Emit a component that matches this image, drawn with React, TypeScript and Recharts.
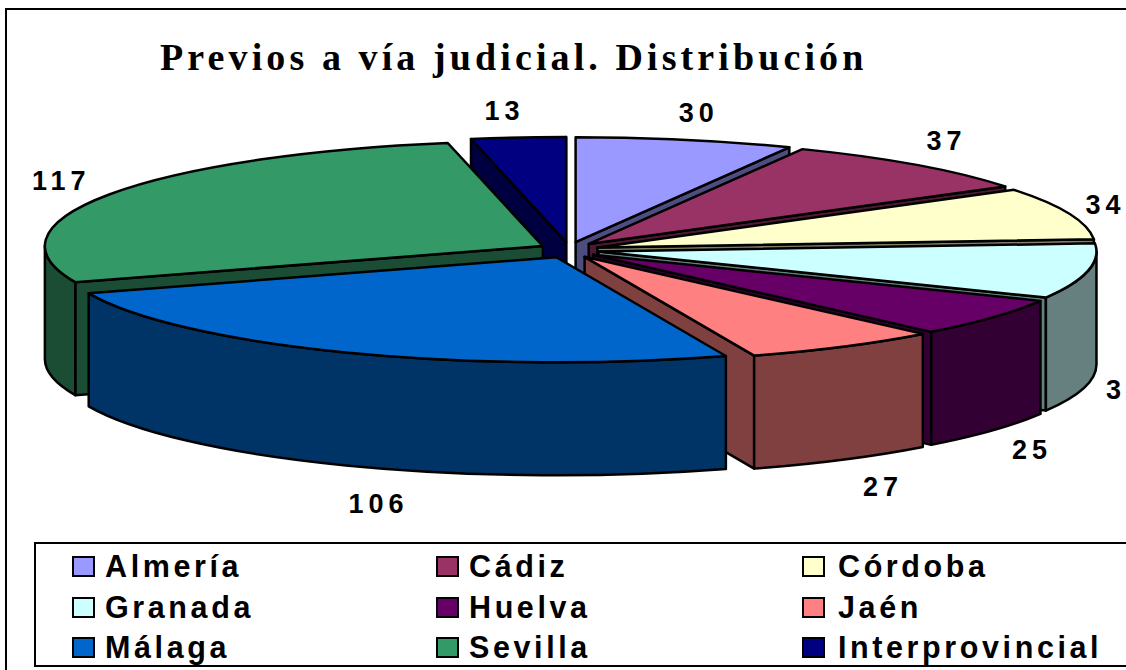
import React from "react";
import { PieChart, Pie, Legend } from "recharts";

const TITLE = "Previos a vía judicial. Distribución";
const provinces = ["Almería", "Cádiz", "Córdoba", "Granada", "Huelva", "Jaén", "Málaga", "Sevilla", "Interprovincial"];
const counts = [30, 37, 34, 36, 25, 27, 106, 117, 13];
const topColors = ["#9999FF", "#993366", "#FFFFCC", "#CCFFFF", "#660066", "#FF8080", "#0066CC", "#339966", "#000080"];
const sideColors = ["#4D4D80", "#4D1A33", "#808066", "#668080", "#330033", "#804040", "#003366", "#1A4D33", "#000040"];
// Back-to-front painting order of the slices.
const paintOrder = ["Interprovincial", "Almería", "Cádiz", "Sevilla", "Córdoba", "Granada", "Huelva", "Jaén", "Málaga"];
const labelShift: Record<string, [number, number]> = {
  "Almería": [5, 0],
  "Cádiz": [5, -3],
  Huelva: [8, 0],
  "Jaén": [19, 0],
  "Málaga": [49, 10],
  Sevilla: [-14, 0],
  Interprovincial: [-10, 0],
};

const rows = provinces.map((name, i) => ({ name, value: counts[i], top: topColors[i], side: sideColors[i] }));

const W = 1126, H = 670;
const CX = 569, CY = 250, RX = 498, RY = 105, DEPTH = 113;
const EXPLODE_X = 30, EXPLODE_Y = 8;
const rad = (d: number) => (d * Math.PI) / 180;
const LABEL_FONT = "'Liberation Sans', Arial, sans-serif";

function Slice3D(props: any) {
  const a0 = 90 - props.startAngle;
  const a1 = 90 - props.endAngle;
  const mid = (a0 + a1) / 2;
  const ox = props.cx + EXPLODE_X * Math.sin(rad(mid));
  const oy = props.cy - EXPLODE_Y * Math.cos(rad(mid));
  const pt = (a: number, dz = 0) => [ox + RX * Math.sin(rad(a)), oy - RY * Math.cos(rad(a)) + dz];
  const [sx, sy] = pt(a0);
  const [ex, ey] = pt(a1);
  const large = a1 - a0 > 180 ? 1 : 0;
  const sideProps = { fill: props.side, stroke: "#000", strokeWidth: 2.5, strokeLinejoin: "round" as const };
  const face = (x: number, y: number) =>
    `M${ox},${oy}L${x},${y}L${x},${y + DEPTH}L${ox},${oy + DEPTH}Z`;
  const startVisible = Math.sin(rad(a0)) < -1e-6;
  const endVisible = Math.sin(rad(a1)) > 1e-6;
  const w0 = Math.max(a0, 90);
  const w1 = Math.min(a1, 270);
  let wall: string | null = null;
  if (w1 > w0) {
    const [ax, ay] = pt(w0);
    const [bx, by] = pt(w1);
    wall = `M${ax},${ay}A${RX},${RY} 0 0 1 ${bx},${by}L${bx},${by + DEPTH}A${RX},${RY} 0 0 0 ${ax},${ay + DEPTH}Z`;
  }
  return (
    <g>
      {startVisible && <path d={face(sx, sy)} {...sideProps} />}
      {endVisible && <path d={face(ex, ey)} {...sideProps} />}
      {wall && <path d={wall} {...sideProps} />}
      <path
        d={`M${ox},${oy}L${sx},${sy}A${RX},${RY} 0 ${large} 1 ${ex},${ey}Z`}
        fill={props.top}
        stroke="#000"
        strokeWidth={2.5}
        strokeLinejoin="round"
      />
    </g>
  );
}

function sliceLabel(props: any, only: string) {
  if (props.name !== only) return null;
  const a = 90 - props.midAngle;
  const s = Math.sin(rad(a));
  const c = Math.cos(rad(a));
  const [dx, dy] = labelShift[props.name] || [0, 0];
  const x = props.cx + 567 * s + dx;
  const y = props.cy - (c > 0 ? 140 : 145) * c + (c < 0 ? DEPTH : 0) + dy;
  return (
    <text
      x={x}
      y={y}
      textAnchor="middle"
      dominantBaseline="central"
      fontFamily={LABEL_FONT}
      fontWeight="bold"
      fontSize={27}
      letterSpacing={5}
      fill="#000"
    >
      {props.value}
    </text>
  );
}

function LegendBox() {
  return (
    <div
      style={{
        position: "relative",
        width: W,
        height: 121,
        border: "2px solid #000",
        boxSizing: "content-box",
        background: "#fff",
        fontFamily: LABEL_FONT,
        fontWeight: "bold",
        fontSize: 30.5,
        letterSpacing: 3.6,
        color: "#000",
      }}
    >
      {rows.map((r, i) => {
        const col = i % 3;
        const row = Math.floor(i / 3);
        const left = [36, 400, 766][col];
        const textLeft = [33, 33, 36][col];
        const top = 11 + row * 40.5;
        return (
          <div key={r.name} style={{ position: "absolute", left, top, height: 24, whiteSpace: "nowrap" }}>
            <span
              style={{
                position: "absolute",
                left: 0,
                top: 1,
                width: 19,
                height: 17,
                background: r.top,
                border: "2px solid #000",
              }}
            />
            <span style={{ position: "absolute", left: textLeft, top: -6, lineHeight: "34px" }}>{r.name}</span>
          </div>
        );
      })}
    </div>
  );
}

export default function App() {
  return (
    <div style={{ position: "absolute", left: 0, top: 0, width: W, height: H, overflow: "hidden", background: "#fff" }}>
      <div
        style={{
          position: "absolute",
          left: 5,
          top: 8,
          width: W + 20,
          height: H + 20,
          border: "2px solid #000",
        }}
      />
      <div style={{ position: "absolute", left: 0, top: 0 }}>
        <PieChart width={W} height={H} margin={{ top: 0, right: 0, bottom: 0, left: 0 }}>
          <text
            x={160}
            y={70}
            fontFamily="'Liberation Serif', 'Times New Roman', serif"
            fontWeight="bold"
            fontSize={38}
            letterSpacing={4.1}
            fill="#000"
          >
            {TITLE}
          </text>
          {paintOrder.map((only) => (
            <Pie
              key={only}
              data={rows}
              dataKey="value"
              nameKey="name"
              cx={CX}
              cy={CY}
              outerRadius={RX}
              startAngle={90}
              endAngle={-270}
              paddingAngle={0}
              isAnimationActive={false}
              labelLine={false}
              label={(p: any) => sliceLabel(p, only)}
              shape={(p: any) => (p.name === only ? <Slice3D {...p} /> : <g />)}
            />
          ))}
          <Legend
            content={() => <LegendBox />}
            wrapperStyle={{ position: "absolute", left: 34, top: 542, width: W, height: 125, bottom: "auto" }}
          />
        </PieChart>
      </div>
    </div>
  );
}
